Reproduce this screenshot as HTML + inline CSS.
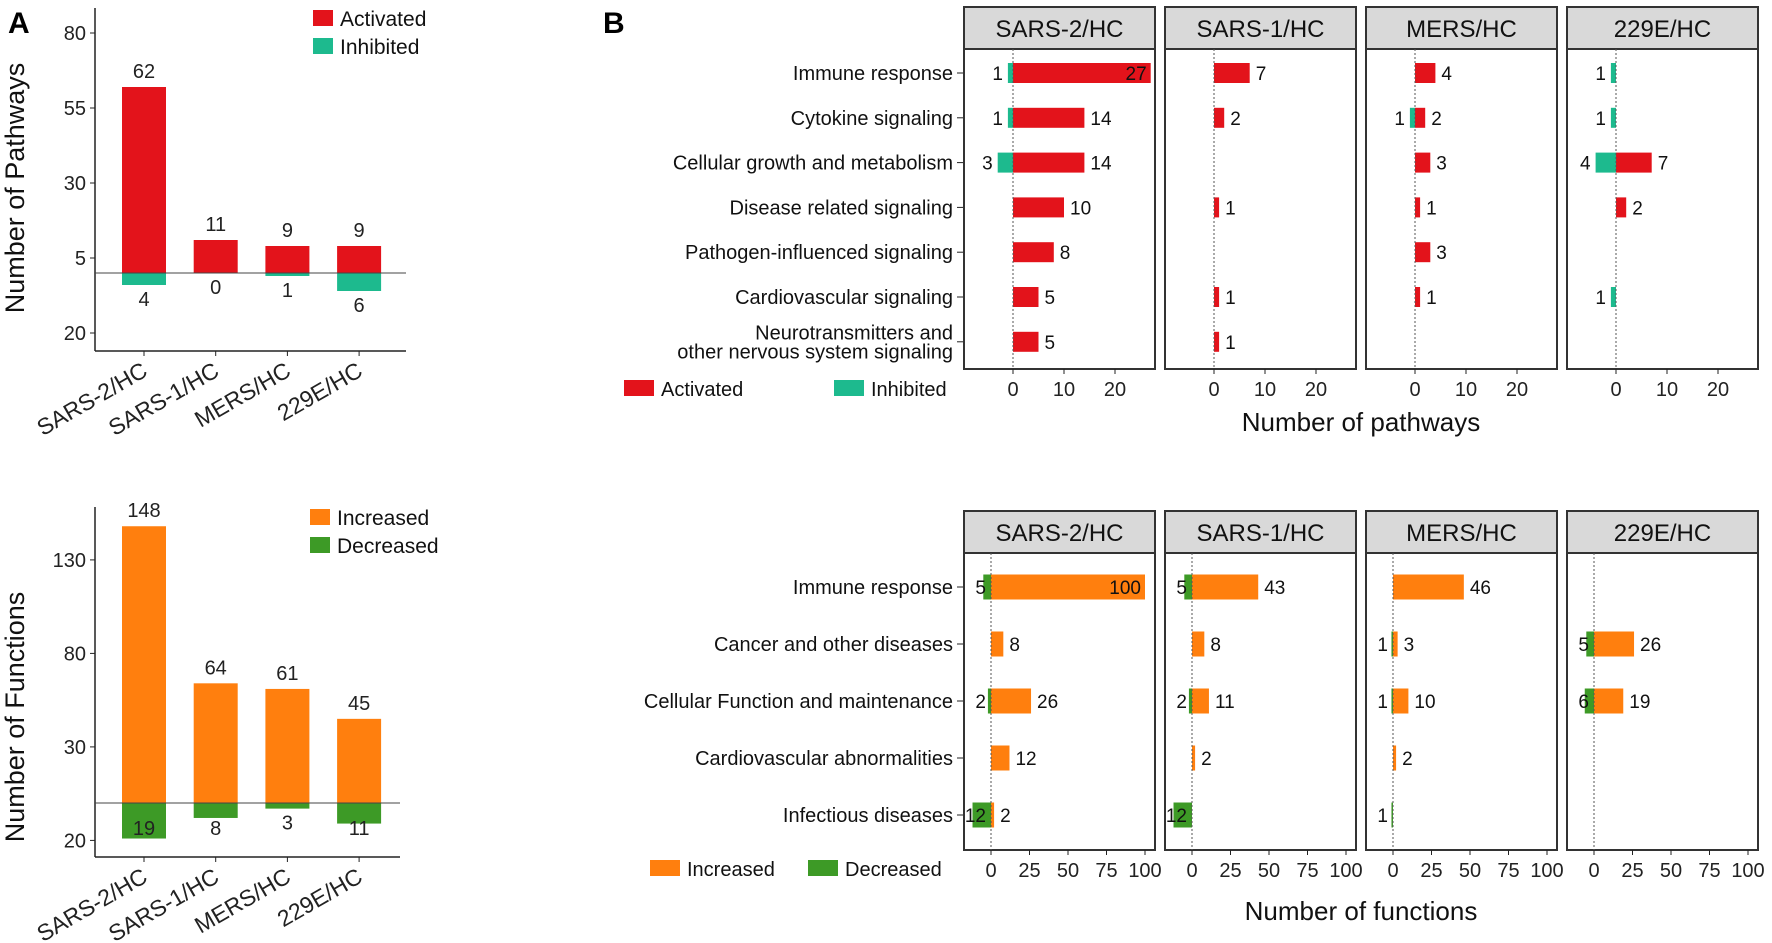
<!DOCTYPE html>
<html><head><meta charset="utf-8"><style>
html,body{margin:0;padding:0;background:#fff}
svg{display:block;font-family:"Liberation Sans",Arial,sans-serif}
</style></head><body>
<svg id="fig" width="1772" height="943" viewBox="0 0 1772 943" xmlns="http://www.w3.org/2000/svg"></svg>
<script>
// ---------- data ----------
const groups = ["SARS-2/HC","SARS-1/HC","MERS/HC","229E/HC"];
const pathActivatedTotals = [62,11,9,9];
const pathInhibitedTotals = [4,0,1,6];
const funcIncreasedTotals = [148,64,61,45];
const funcDecreasedTotals = [19,8,3,11];
const pathYTicks = [80,55,30,5,-20];
const pathYTickLabels = ["80","55","30","5","20"];
const funcYTicks = [130,80,30,-20];
const funcYTickLabels = ["130","80","30","20"];

const pathCategories = ["Immune response","Cytokine signaling","Cellular growth and metabolism","Disease related signaling","Pathogen-influenced signaling","Cardiovascular signaling","Neurotransmitters and|other nervous system signaling"];
const pathActivated = [[27,14,14,10,8,5,5],[7,2,0,1,0,1,1],[4,2,3,1,3,1,0],[0,0,7,2,0,0,0]];
const pathInhibited = [[1,1,3,0,0,0,0],[0,0,0,0,0,0,0],[0,1,0,0,0,0,0],[1,1,4,0,0,1,0]];
const pathXTicks = [0,10,20];

const funcCategories = ["Immune response","Cancer and other diseases","Cellular Function and maintenance","Cardiovascular abnormalities","Infectious diseases"];
const funcIncreased = [[100,8,26,12,2],[43,8,11,2,0],[46,3,10,2,0],[0,26,19,0,0]];
const funcDecreased = [[5,0,2,0,12],[5,0,2,0,12],[0,1,1,0,1],[0,5,6,0,0]];
const funcXTicks = [0,25,50,75,100];

const RED="#e3131b", TEAL="#1dba8e", ORANGE="#ff7f0e", GREEN="#3d9a26";
const svg=document.getElementById('fig');
const NS="http://www.w3.org/2000/svg";
function mk(tag,attrs,parent,text){const e=document.createElementNS(NS,tag);for(const k in attrs)e.setAttribute(k,attrs[k]);if(text!==undefined)e.textContent=text;(parent||svg).appendChild(e);return e;}
function grp(name){const g=mk('g',{});


return g;}

let t=mk('text',{x:8,y:33,'font-size':30,'font-weight':'bold'},svg,'A');


t=mk('text',{x:603,y:33,'font-size':30,'font-weight':'bold'},svg,'B');



// ---------- Panel A ----------
function barChartA(cfg){
  const g=grp(cfg.name);
  const y=v=>cfg.zero - v*cfg.scale;
  const xc=i=>144+i*71.7;
  mk('line',{x1:95,y1:cfg.top,x2:95,y2:cfg.bottom,stroke:'#222','stroke-width':1.5},g);
  mk('line',{x1:95,y1:cfg.bottom,x2:cfg.right,y2:cfg.bottom,stroke:'#222','stroke-width':1.5},g);
  cfg.ticks.forEach((v,i)=>{
    mk('line',{x1:90,y1:y(v),x2:95,y2:y(v),stroke:'#222'},g);
    const tl=mk('text',{x:86,y:y(v)+7,'font-size':20,'text-anchor':'end',fill:'#222'},g,cfg.tickLabels[i]);
    
    
  });
  groups.forEach((gname,i)=>{
    const pos=cfg.pos[i], neg=cfg.neg[i];
    const b1=mk('rect',{x:xc(i)-22,y:y(pos),width:44,height:pos*cfg.scale,fill:cfg.c1},g);
    
    
    const b2=mk('rect',{x:xc(i)-22,y:cfg.zero,width:44,height:neg*cfg.scale,fill:cfg.c2},g);
    
    
    const l1=mk('text',{x:xc(i),y:y(pos)-9,'font-size':20,'text-anchor':'middle',fill:'#222'},g,String(pos));
    
    
    const l2=mk('text',{x:xc(i),y:Math.min(y(-neg)+21,cfg.negMax),'font-size':20,'text-anchor':'middle',fill:'#222'},g,String(neg));
    
    
    mk('line',{x1:xc(i),y1:cfg.bottom,x2:xc(i),y2:cfg.bottom+5,stroke:'#222'},g);
    const xl=mk('text',{x:xc(i)+5,y:cfg.bottom+24,'font-size':23,'text-anchor':'end',fill:'#222',transform:`rotate(-30 ${xc(i)+5} ${cfg.bottom+24})`},g,gname);
    
    
  });
  mk('line',{x1:95,y1:cfg.zero,x2:cfg.right,y2:cfg.zero,stroke:'#444','stroke-width':1},g);
  const yt=mk('text',{x:0,y:0,'font-size':27,'text-anchor':'middle',fill:'#111',transform:`translate(24 ${cfg.titleY}) rotate(-90)`},g,cfg.title);
  
  
  const lg=grp(cfg.name+'-legend');
  g.appendChild(lg);
  mk('rect',{x:cfg.lx,y:cfg.ly,width:20,height:16,fill:cfg.c1},lg);
  let lt=mk('text',{x:cfg.lx+27,y:cfg.ly+16,'font-size':21,fill:'#111'},lg,cfg.n1);
  
  
  mk('rect',{x:cfg.lx,y:cfg.ly+28,width:20,height:16,fill:cfg.c2},lg);
  lt=mk('text',{x:cfg.lx+27,y:cfg.ly+44,'font-size':21,fill:'#111'},lg,cfg.n2);
  
  
}
barChartA({name:'pathways-summary-chart',top:8,bottom:351,right:406,zero:273,scale:3,ticks:pathYTicks,tickLabels:pathYTickLabels,
  pos:pathActivatedTotals,neg:pathInhibitedTotals,c1:RED,c2:TEAL,k1:'activated',k2:'inhibited',negMax:345,
  title:'Number of Pathways',titleY:188,lx:313,ly:10,n1:'Activated',n2:'Inhibited'});
barChartA({name:'functions-summary-chart',top:507,bottom:857,right:400,zero:803,scale:1.87,ticks:funcYTicks,tickLabels:funcYTickLabels,
  pos:funcIncreasedTotals,neg:funcDecreasedTotals,c1:ORANGE,c2:GREEN,k1:'increased',k2:'decreased',negMax:835,
  title:'Number of Functions',titleY:717,lx:310,ly:509,n1:'Increased',n2:'Decreased'});

// ---------- Panel B ----------
const panelLefts=[964,1165,1366,1567];
function facet(cfg){
  const g=grp(cfg.name);
  const rowY=i=>cfg.row0+i*cfg.rowStep;
  cfg.cats.forEach((c,i)=>{
    mk('line',{x1:957,y1:rowY(i),x2:964,y2:rowY(i),stroke:'#222'},g);
    const parts=c.split('|');
    parts.forEach((p,j)=>{
      const yy=rowY(i)+7+(j-(parts.length-1)/2)*19;
      const ct=mk('text',{x:953,y:yy,'font-size':20,'text-anchor':'end',fill:'#111'},g,p);
      
      
    });
  });
  groups.forEach((gname,p)=>{
    const L=panelLefts[p], W=191;
    const x=v=>L+cfg.zeroOff+v*cfg.scale;
    const pg=grp('facet-'+gname.toLowerCase().replace('/','-'));
    g.appendChild(pg);
    const strip=mk('rect',{x:L,y:cfg.stripTop,width:W,height:cfg.stripH,fill:'#d9d9d9',stroke:'#333','stroke-width':2},pg);
    
    
    const st=mk('text',{x:L+W/2,y:cfg.stripTop+cfg.stripH/2+9,'font-size':24,'text-anchor':'middle',fill:'#111'},pg,gname);
    
    
    mk('rect',{x:L,y:cfg.stripTop+cfg.stripH,width:W,height:cfg.bottom-cfg.stripTop-cfg.stripH,fill:'#fff',stroke:'#333','stroke-width':2},pg);
    cfg.pos[p].forEach((v,i)=>{
      const h=cfg.barH;
      if(v>0){
        const r=mk('rect',{x:x(0),y:rowY(i)-h/2,width:v*cfg.scale,height:h,fill:cfg.c1},pg);
        
        
        const inside = x(v)+30 > L+W;
        const lt=mk('text',{x:inside?x(v)-4:x(v)+6,y:rowY(i)+7,'font-size':19,'text-anchor':inside?'end':'start',fill:'#111'},pg,String(v));
        
        
      }
      const n=cfg.neg[p][i];
      if(n>0){
        const r=mk('rect',{x:x(-n),y:rowY(i)-h/2,width:n*cfg.scale,height:h,fill:cfg.c2},pg);
        
        
        const lt=mk('text',{x:Math.max(x(-n)-5,L+22),y:rowY(i)+7,'font-size':19,'text-anchor':'end',fill:'#111'},pg,String(n));
        
        
      }
    });
    mk('line',{x1:x(0),y1:cfg.stripTop+cfg.stripH,x2:x(0),y2:cfg.bottom,stroke:'#555','stroke-width':1,'stroke-dasharray':'2,2'},pg);
    cfg.xticks.forEach(v=>{
      mk('line',{x1:x(v),y1:cfg.bottom,x2:x(v),y2:cfg.bottom+5,stroke:'#222'},pg);
      const tl=mk('text',{x:x(v),y:cfg.bottom+27,'font-size':20,'text-anchor':'middle',fill:'#222'},pg,String(v));
      
      
    });
  });
  const xt=mk('text',{x:1361,y:cfg.titleY,'font-size':26,'text-anchor':'middle',fill:'#111'},g,cfg.title);
  
  
  const lg=grp(cfg.name+'-legend');
  g.appendChild(lg);
  mk('rect',{x:cfg.l1x,y:cfg.ly,width:30,height:16,fill:cfg.c1},lg);
  let lt=mk('text',{x:cfg.l1x+37,y:cfg.ly+16,'font-size':20,fill:'#111'},lg,cfg.n1);
  
  
  mk('rect',{x:cfg.l2x,y:cfg.ly,width:30,height:16,fill:cfg.c2},lg);
  lt=mk('text',{x:cfg.l2x+37,y:cfg.ly+16,'font-size':20,fill:'#111'},lg,cfg.n2);
  
  
}
facet({name:'pathways-facet-chart',cats:pathCategories,row0:73,rowStep:44.8,barH:20,stripTop:7,stripH:42,bottom:369,zeroOff:49,scale:5.1,
  pos:pathActivated,neg:pathInhibited,c1:RED,c2:TEAL,k1:'activated',k2:'inhibited',xticks:pathXTicks,
  title:'Number of pathways',titleY:431,l1x:624,l2x:834,ly:380,n1:'Activated',n2:'Inhibited'});
facet({name:'functions-facet-chart',cats:funcCategories,row0:587,rowStep:57,barH:25,stripTop:511,stripH:42,bottom:850,zeroOff:27,scale:1.54,
  pos:funcIncreased,neg:funcDecreased,c1:ORANGE,c2:GREEN,k1:'increased',k2:'decreased',xticks:funcXTicks,
  title:'Number of functions',titleY:920,l1x:650,l2x:808,ly:860,n1:'Increased',n2:'Decreased'});
</script>
</body></html>
